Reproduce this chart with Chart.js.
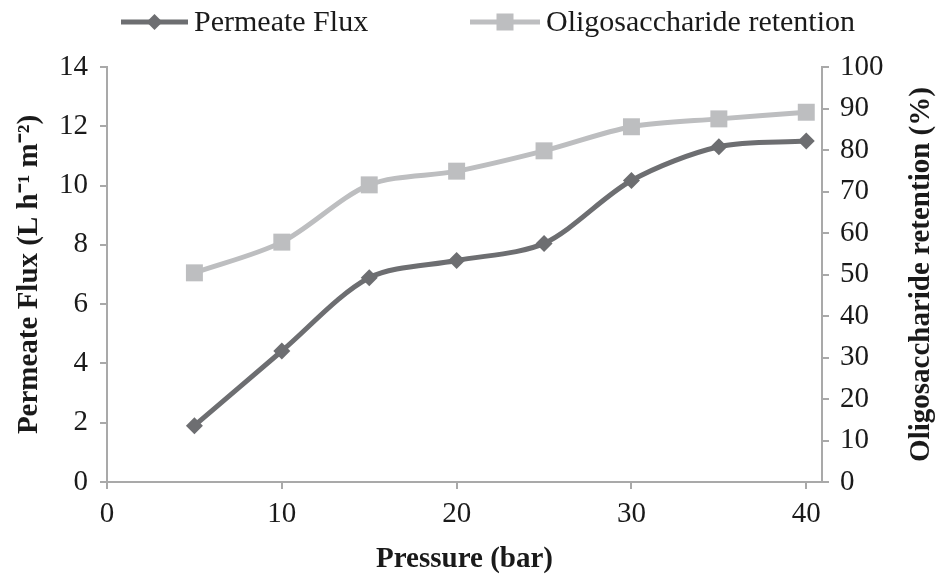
<!DOCTYPE html>
<html><head><meta charset="utf-8">
<script src="https://cdn.jsdelivr.net/npm/chart.js@4.4.1/dist/chart.umd.min.js"></script>
<style>html,body{margin:0;padding:0;background:#fff}#wrap{width:947px;height:585px}</style>
</head><body><div id="wrap"><canvas id="c" width="947" height="585"></canvas></div>
<script>
const pressure = [5, 10, 15, 20, 25, 30, 35, 40];
const permeateFlux = [1.90, 4.42, 6.89, 7.47, 8.05, 10.17, 11.31, 11.50];
const oligoRetention = [50.4, 57.8, 71.6, 74.9, 79.8, 85.6, 87.5, 89.1];
const xTickValues = [0, 10, 20, 30, 40];
const seriesNames = ['Permeate Flux', 'Oligosaccharide retention'];
const xTitle = 'Pressure (bar)';
const yTitle = 'Permeate Flux (L h\u207B\u00B9 m\u207B\u00B2)';
const y1Title = 'Oligosaccharide retention (%)';

const FLUX_COLOR = '#6d6e71';
const RET_COLOR = '#bdbec0';
const AXIS_COLOR = '#a9a9a9';
const FONT = '"Liberation Serif", "Times New Roman", serif';

const legendPlugin = {
  id: 'customLegend',
  afterDraw(chart) {
    const ctx = chart.ctx;
    const cy = 22;
    ctx.save();
    ctx.font = '30px ' + FONT;
    ctx.textBaseline = 'middle';
    // item 1
    ctx.strokeStyle = FLUX_COLOR; ctx.lineWidth = 5;
    ctx.beginPath(); ctx.moveTo(121, cy); ctx.lineTo(188, cy); ctx.stroke();
    ctx.fillStyle = FLUX_COLOR;
    ctx.beginPath(); ctx.moveTo(154.5, cy - 8); ctx.lineTo(162.5, cy); ctx.lineTo(154.5, cy + 8); ctx.lineTo(146.5, cy); ctx.closePath(); ctx.fill();
    ctx.fillStyle = '#1a1a1a';
    ctx.fillText(seriesNames[0], 194, cy + 1);
    // item 2
    ctx.strokeStyle = RET_COLOR; ctx.lineWidth = 5;
    ctx.beginPath(); ctx.moveTo(470, cy); ctx.lineTo(540, cy); ctx.stroke();
    ctx.fillStyle = RET_COLOR;
    ctx.fillRect(505 - 8.5, cy - 8.5, 17, 17);
    ctx.fillStyle = '#1a1a1a';
    ctx.fillText(seriesNames[1], 546, cy + 1);
    // right axis title (reads bottom-to-top)
    const a = chart.chartArea;
    ctx.translate(922, (a.top + a.bottom) / 2);
    ctx.rotate(-Math.PI / 2);
    ctx.font = 'bold 29px ' + FONT;
    ctx.textAlign = 'center';
    ctx.fillText(y1Title, 0, 0);
    ctx.restore();
  }
};

new Chart(document.getElementById('c'), {
  type: 'line',
  data: {
    datasets: [
      {
        label: seriesNames[0],
        data: pressure.map((p, i) => ({x: p, y: permeateFlux[i]})),
        yAxisID: 'y',
        borderColor: FLUX_COLOR,
        backgroundColor: FLUX_COLOR,
        borderWidth: 5,
        pointStyle: 'rectRot',
        pointRadius: 8.5,
        pointBorderWidth: 0,
        tension: 0.3
      },
      {
        label: seriesNames[1],
        data: pressure.map((p, i) => ({x: p, y: oligoRetention[i]})),
        yAxisID: 'y1',
        borderColor: RET_COLOR,
        backgroundColor: RET_COLOR,
        borderWidth: 5,
        pointStyle: 'rect',
        pointRadius: 12,
        pointBorderWidth: 0,
        tension: 0.3
      }
    ]
  },
  options: {
    responsive: false,
    animation: false,
    devicePixelRatio: 1,
    layout: {padding: {top: 67, left: 0, right: 0, bottom: 0}},
    plugins: {legend: {display: false}, tooltip: {enabled: false}},
    scales: {
      x: {
        type: 'linear', min: 0, max: 40.9,
        afterBuildTicks: s => { s.ticks = xTickValues.map(v => ({value: v})); },
        afterFit: s => { s.height = 103; },
        border: {display: true, color: AXIS_COLOR, width: 2},
        grid: {display: true, drawOnChartArea: false, drawTicks: true, tickLength: 7, color: AXIS_COLOR, lineWidth: 2},
        ticks: {font: {family: FONT, size: 29}, color: '#1a1a1a', padding: 8, maxRotation: 0},
        title: {display: true, text: xTitle, font: {family: FONT, size: 29, weight: 'bold'}, color: '#1a1a1a', padding: {top: 0, bottom: 8}}
      },
      y: {
        type: 'linear', position: 'left', min: 0, max: 14,
        ticks: {stepSize: 2, font: {family: FONT, size: 29}, color: '#1a1a1a', padding: 12},
        afterFit: s => { s.width = 107; },
        border: {display: true, color: AXIS_COLOR, width: 2},
        grid: {display: true, drawOnChartArea: false, drawTicks: true, tickLength: 7, color: AXIS_COLOR, lineWidth: 2},
        title: {display: true, text: yTitle, font: {family: FONT, size: 29, weight: 'bold'}, color: '#1a1a1a', padding: {top: 12, bottom: 0}}
      },
      y1: {
        type: 'linear', position: 'right', min: 0, max: 100,
        ticks: {stepSize: 10, font: {family: FONT, size: 29}, color: '#1a1a1a', padding: 11},
        afterFit: s => { s.width = 125; },
        border: {display: true, color: AXIS_COLOR, width: 2},
        grid: {display: true, drawOnChartArea: false, drawTicks: true, tickLength: 7, color: AXIS_COLOR, lineWidth: 2},
        title: {display: false}
      }
    }
  },
  plugins: [legendPlugin]
});
</script>
</body></html>
